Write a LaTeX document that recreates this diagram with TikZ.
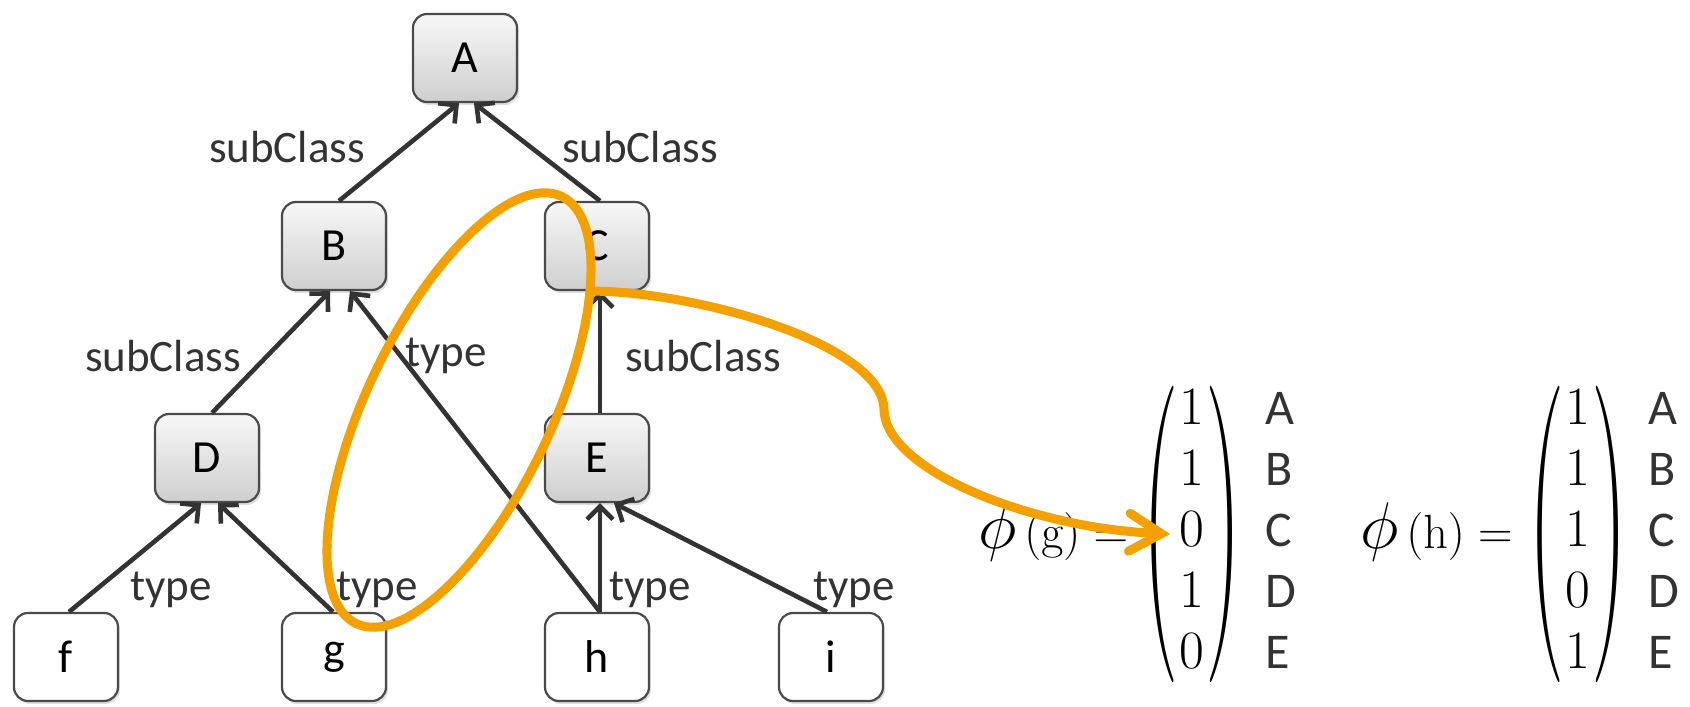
\RequirePackage{fix-cm}
\documentclass[tikz,border=0pt]{standalone}
\usepackage{graphicx}
\usepackage[no-math]{fontspec}
\setmainfont{Carlito}
\usetikzlibrary{arrows.meta,shadows}
\definecolor{hlorange}{HTML}{F2A100}
\definecolor{edgegray}{HTML}{333333}
\definecolor{boxborder}{HTML}{4A4A4A}
\newcommand{\vparL}{\vcenter{\hbox{\scalebox{1.9}[5.5]{$($}}}}
\newcommand{\vparR}{\vcenter{\hbox{\scalebox{1.9}[5.5]{$)$}}}}
\begin{document}
\begin{tikzpicture}[x=1pt,y=-1pt,
  cls/.style={draw=boxborder, line width=2.2pt, rounded corners=14pt,
    minimum width=104pt, minimum height=88pt, inner sep=0pt,
    top color=gray!6, bottom color=gray!38,
    font=\fontsize{46}{50}\selectfont,
    drop shadow={shadow xshift=2pt,shadow yshift=-3pt,opacity=0.25}},
  inst/.style={cls, top color=white, bottom color=white},
  rel/.style={draw=edgegray, line width=4.6pt,
    -{Straight Barb[length=13pt,width=26pt]}},
  lbl/.style={font=\fontsize{45}{50}\selectfont, text=edgegray, inner sep=0pt},
  hl/.style={draw=hlorange, line width=9pt},
  mathtxt/.style={font=\fontsize{48}{61}\selectfont, inner sep=0pt},
  vec/.style={font=\fontsize{54}{61}\selectfont, inner sep=0pt},
  names/.style={font=\fontsize{50}{61}\selectfont, inner sep=0pt, text=edgegray}
]
\useasboundingbox (0,0) rectangle (1690,707);

% nodes
\node[cls]  (A) at (465,58)  {A};
\node[cls]  (B) at (334,246) {B};
\node[cls]  (C) at (597,246) {C};
\node[cls]  (D) at (207,458) {D};
\node[cls]  (E) at (597,458) {E};
\node[inst] (f) at (66,657)  {f};
\node[inst] (g) at (334,657) {g};
\node[inst] (h) at (597,657) {h};
\node[inst] (i) at (831,657) {i};

% edges
\draw[rel] ([xshift=5pt]B.north) -- ([xshift=-6pt]A.south);
\draw[rel] ([xshift=3pt]C.north) -- ([xshift=9pt]A.south);
\draw[rel] ([xshift=5pt]D.north) -- ([xshift=-4pt]B.south);
\draw[rel] ([xshift=3pt]h.north) -- ([xshift=16pt]B.south);
\draw[rel] ([xshift=3pt]E.north) -- ([xshift=3pt]C.south);
\draw[rel] ([xshift=3pt]f.north) -- ([xshift=-6pt]D.south);
\draw[rel] ([xshift=-1pt]g.north) -- ([xshift=11pt]D.south);
\draw[rel] ([xshift=3pt]h.north) -- ([xshift=3pt]E.south);
\draw[rel] ([xshift=-4pt]i.north) -- ([xshift=17pt]E.south);

% edge labels
\node[lbl] (l1) at (287,147) {subClass};
\node[lbl] (l2) at (640,147) {subClass};
\node[lbl] (l3) at (163,356) {subClass};
\node[lbl] (l4) at (446,356) {type};
\node[lbl] (l5) at (703,356) {subClass};
\node[lbl] (l6) at (171,590) {type};
\node[lbl] (l7) at (377,590) {type};
\node[lbl] (l8) at (650,590) {type};
\node[lbl] (l9) at (854,590) {type};

% formulas
\node[mathtxt, anchor=base west] (phig) at (978,548)
  {{\fontsize{66}{66}\selectfont$\phi$}$\,(\mathrm{g}) =$};
\node[vec] (matg) at (1192,534)
  {$\vparL\begin{array}{@{\hspace{1pt}}c@{\hspace{1pt}}}1\\1\\0\\1\\0\end{array}\vparR$};
\node[names] (labg) at (1281,534)
  {$\begin{array}{@{}l@{}}\mbox{A}\\\mbox{B}\\\mbox{C}\\\mbox{D}\\\mbox{E}\end{array}$};

\node[mathtxt, anchor=base west] (phih) at (1360,548)
  {{\fontsize{66}{66}\selectfont$\phi$}$\,(\mathrm{h}) =$};
\node[vec] (math) at (1578,534)
  {$\vparL\begin{array}{@{\hspace{1pt}}c@{\hspace{1pt}}}1\\1\\1\\0\\1\end{array}\vparR$};
\node[names] (labh) at (1664,534)
  {$\begin{array}{@{}l@{}}\mbox{A}\\\mbox{B}\\\mbox{C}\\\mbox{D}\\\mbox{E}\end{array}$};

% highlight ellipse
\draw[hl] (459,410) ellipse [x radius=237, y radius=92, rotate=64.3];

% highlight arrow
\draw[hl, -{Straight Barb[length=32pt,width=38pt,line cap=round]}]
  ([xshift=-4pt]C.south) .. controls (700,292) and (884,345) .. (884,410)
  .. controls (886,470) and (1030,528) .. ([xshift=28pt]matg.west);
\end{tikzpicture}
\end{document}
